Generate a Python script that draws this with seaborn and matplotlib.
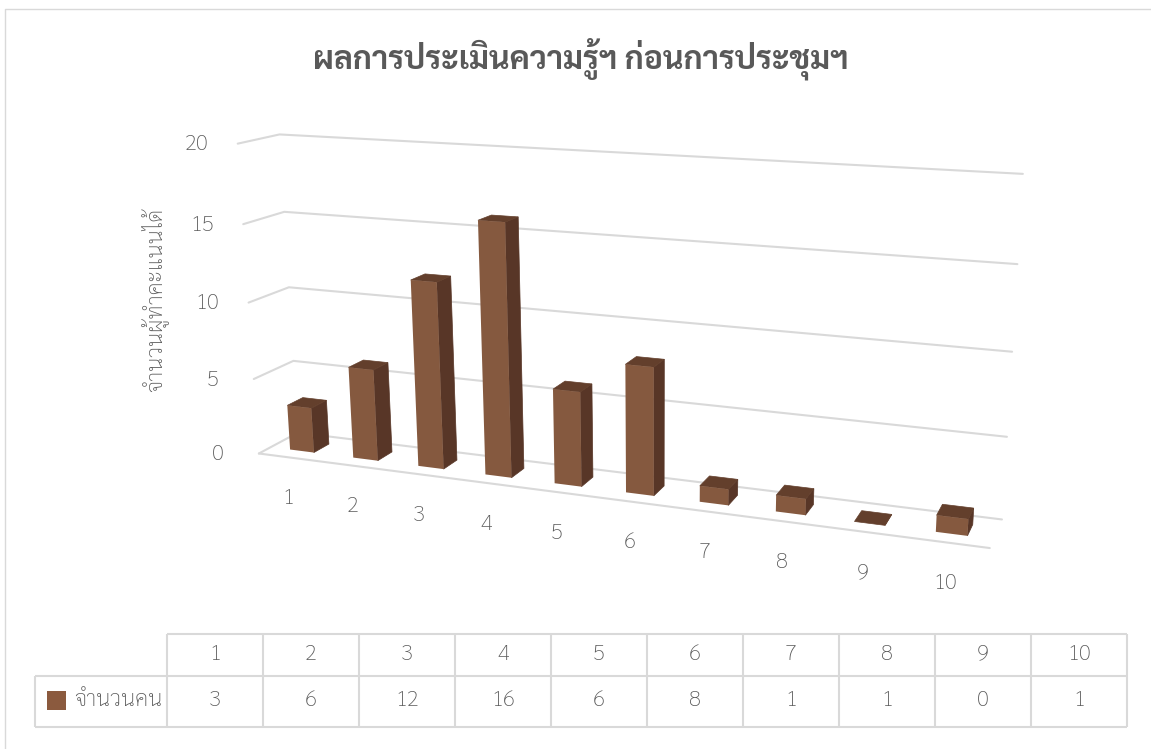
"""
Excel style 3D column chart with data table, drawn by re-projecting the
seaborn bars through a small camera fitted to the floor and wall corners.
"""

import numpy as np
import matplotlib
matplotlib.use("Agg")
import matplotlib.pyplot as plt
import seaborn as sns
from matplotlib.transforms import Transform

TITLE = "ผลการประเมินความรู้ฯ ก่อนการประชุมฯ"
Y_TITLE = "จำนวนผู้ทำคะแนนได้"
SERIES_NAME = "จำนวนคน"
SCORES = ["1", "2", "3", "4", "5", "6", "7", "8", "9", "10"]
COUNTS = [3, 6, 12, 16, 6, 8, 1, 1, 0, 1]
Y_TICKS = [0, 5, 10, 15, 20]

TEXT = "#595959"
GRID = "#D9D9D9"
FRONT = "#85593F"
SIDE = "#583627"
TOP = "#633F2C"
LABEL_SIZE = 16

# (category position, value, depth) -> picture pixel, used to fit the camera
CAMERA_POINTS = [
    ((-0.5, 20, 1), (280, 134)), ((-0.5, 15, 1), (284, 212)),
    ((-0.5, 10, 1), (289, 287)), ((-0.5, 5, 1), (293, 361)),
    ((-0.5, 0, 1), (298, 433)), ((9.5, 20, 1), (1023, 173)),
    ((9.5, 15, 1), (1017, 265)), ((9.5, 10, 1), (1012, 352)),
    ((9.5, 5, 1), (1007, 437)), ((9.5, 0, 1), (1002, 519)),
    ((-0.5, 20, 0), (238, 144)), ((-0.5, 15, 0), (243, 224)),
    ((-0.5, 10, 0), (248, 303)), ((-0.5, 5, 0), (254, 379)),
    ((-0.5, 0, 0), (259, 453)), ((9.5, 0, 0), (990, 548)),
]
BAR_FRONT_DEPTH = 0.3
BAR_BACK_DEPTH = 0.7


def fit_camera(points):
    """
    Fits the 3x4 projection matrix from the given point pairs.
    """
    rows = []
    rhs = []
    for (x, y, z), (u, v) in points:
        rows.append([x, y, z, 1, 0, 0, 0, 0, -u * x, -u * y, -u * z])
        rows.append([0, 0, 0, 0, x, y, z, 1, -v * x, -v * y, -v * z])
        rhs.extend([u, v])
    m = np.linalg.lstsq(np.array(rows, float), np.array(rhs, float),
                        rcond=None)[0]
    return np.append(m, 1).reshape(3, 4)


CAMERA = fit_camera(CAMERA_POINTS)


def project(x, y, z):
    """
    Returns the pixel position of a point of the 3D plot box.
    """
    u, v, w = CAMERA @ np.array([x, y, z, 1.0])
    return u / w, v / w


class DepthPlane(Transform):
    """
    Maps (category, value) on the plane at one depth to pixels.
    """
    input_dims = 2
    output_dims = 2
    is_separable = False

    def __init__(self, plane_depth):
        super().__init__()
        self.plane_depth = plane_depth

    def transform_non_affine(self, values):
        return np.array([project(x, y, self.plane_depth) for x, y in values])


sns.set_theme(style="white")
plt.rcParams["font.family"] = ["Sarabun", "DejaVu Sans"]

fig = plt.figure(figsize=(11.51, 7.49), dpi=100)
ax = fig.add_axes([0, 0, 1, 1])

sns.barplot(x=SCORES, y=COUNTS, color=FRONT, saturation=1, width=0.38,
            linewidth=0, ax=ax)

ax.set_xlim(0, 1151)
ax.set_ylim(749, 0)
ax.axis("off")

# chart frame, only its left and top edges are inside the picture
ax.plot([5.5, 5.5, 1151], [749, 9, 9], color=GRID, lw=1)

# walls and floor
for tick in Y_TICKS:
    line = [project(-0.5, tick, 0), project(-0.5, tick, 1),
            project(9.5, tick, 1)]
    ax.plot(*zip(*line), color=GRID, lw=1.5, zorder=1)
    sx, sy = line[0]
    ax.text(sx - 41, sy + 1, str(tick), color=TEXT, fontsize=LABEL_SIZE,
            fontweight="light", ha="center", va="center")
ax.plot(*zip(project(-0.5, 0, 0), project(9.5, 0, 0)), color=GRID, lw=1.5,
        zorder=1)

# turn the flat seaborn bars into boxes, the small edge closes the seams
for patch in ax.patches:
    left = patch.get_x()
    right = left + patch.get_width()
    height = patch.get_height()
    side = [project(right, 0, BAR_FRONT_DEPTH),
            project(right, 0, BAR_BACK_DEPTH),
            project(right, height, BAR_BACK_DEPTH),
            project(right, height, BAR_FRONT_DEPTH)]
    top = [project(left, height, BAR_FRONT_DEPTH),
           project(left, height, BAR_BACK_DEPTH),
           project(right, height, BAR_BACK_DEPTH),
           project(right, height, BAR_FRONT_DEPTH)]
    ax.fill(*zip(*side), color=SIDE, lw=0.5, zorder=2)
    ax.fill(*zip(*top), color=TOP, lw=0.5, zorder=2)
    patch.set_transform(DepthPlane(BAR_FRONT_DEPTH) + ax.transData)
    patch.set_zorder(3)

for i, score in enumerate(SCORES):
    px, py = project(i, 0, 0)
    ax.text(px - 2, py + 41, score, color=TEXT, fontsize=LABEL_SIZE,
            fontweight="light", ha="center", va="center")

ax.text(581, 59, TITLE, color=TEXT, fontsize=23, fontweight="bold",
        ha="center", va="center")
ax.text(154, 300, Y_TITLE, color=TEXT, fontsize=LABEL_SIZE,
        fontweight="light", rotation=90, ha="center", va="center")

# data table
table_left = 167
col_width = 96
table_top = 634
row_mid = 676
table_bottom = 727
table_right = table_left + col_width * len(SCORES)
ax.hlines([table_top], table_left, table_right, color=GRID, lw=1.5)
ax.hlines([row_mid, table_bottom], 35, table_right, color=GRID, lw=1.5)
ax.vlines([35], row_mid, table_bottom, color=GRID, lw=1.5)
ax.vlines([table_left + col_width * i for i in range(len(SCORES) + 1)],
          table_top, table_bottom, color=GRID, lw=1.5)
for i, (score, count) in enumerate(zip(SCORES, COUNTS)):
    cx = table_left + col_width * (i + 0.5)
    ax.text(cx, 654, score, color=TEXT, fontsize=LABEL_SIZE,
            fontweight="light", ha="center", va="center")
    ax.text(cx, 701, str(count), color=TEXT, fontsize=LABEL_SIZE,
            fontweight="light", ha="center", va="center")
ax.fill([47, 66, 66, 47], [691, 691, 710, 710], color="#8B5A3E", lw=0)
ax.text(74, 700, SERIES_NAME, color=TEXT, fontsize=LABEL_SIZE,
        fontweight="light", ha="left", va="center")

fig.savefig("out.png", dpi=100, facecolor="white")
